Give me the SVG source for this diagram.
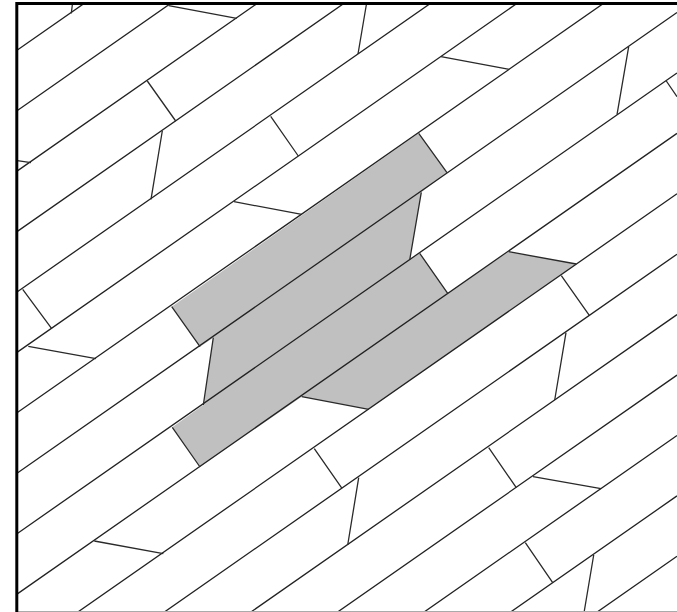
<svg xmlns="http://www.w3.org/2000/svg" width="677" height="612" viewBox="0 0 677 612">
<style>
.l{stroke:#222;stroke-width:1.3;fill:none}
.t{stroke:#2a2a2a;stroke-width:1.3;fill:none}
</style>
<defs><clipPath id="c"><rect x="17" y="4" width="660" height="607"/></clipPath></defs>
<rect width="677" height="612" fill="#fff"/>
<g clip-path="url(#c)">
<polygon id="hole" fill="#c0c0c0" points="418.7,133.3 447,172.7 421.3,192.3 409.7,260 419.7,253.3 447.7,293.3 508.7,251.7 576.3,264 368.7,409.3 301.7,396.7 200,467 172.3,427.3 203.3,405 213.3,337.7 200,346.7 171.7,306.7"/>
<g id="boards" class="l">
<path d="M17 50.3L677 -410.4M17 110.7L677 -350M17 171.1L677 -289.6M17 231.6L677 -229.1M17 292L677 -168.7M17 352.4L677 -108.3M17 412.8L677 -47.9M17 473.2L677 12.5M17 533.7L677 73M17 594.1L677 133.4M17 654.5L677 193.8M17 714.9L677 254.2M17 775.3L677 314.6M17 835.8L677 375.1M17 896.2L677 435.5M17 956.6L677 495.9M17 1017L677 556.3"/>
</g>
<g id="joints" class="t">
<path d="M72.3 5L71.3 13.3M168.7 5.7L236.7 18.3M147.3 81L175.7 121M17.3 160.7L31 162.7M162.3 131L151 199.3M270.7 116.3L298.3 156M234 201.7L301.7 214.3M22.7 289.3L51.7 328.7"/>
<path d="M366.3 5L358 54M441 56.7L509.3 69.3M418.7 133.3L447 172.7M628.7 46.7L617 114.7M666.3 81L677 96.7M421.3 192.3L409.7 260M419.7 253.3L447.7 293.3M508.7 251.7L576.3 264M561.3 275.7L589.3 315.3"/>
<path d="M28.3 346.3L96 358.7M171.7 306.7L200 346.7M213.3 337.7L203.3 405M172.3 427.3L200 467M301.7 396.7L368.7 409.3M314.3 448.7L342 488.3M94.3 541L163.3 553.7"/>
<path d="M566 332.7L554.7 400M358.7 477.7L347.7 545M488.7 447.7L516.3 487.7M533 476.7L601 488.7M525.3 542.7L552.7 582.7M593.7 555L584.3 611"/>
</g>
</g>
<g id="frame">
<path d="M17.2 611.5H677" fill="none" stroke="#aaa" stroke-width="1"/>
<path d="M16.8 612V3.5H677" fill="none" stroke="#000" stroke-width="3"/>
</g>
</svg>
